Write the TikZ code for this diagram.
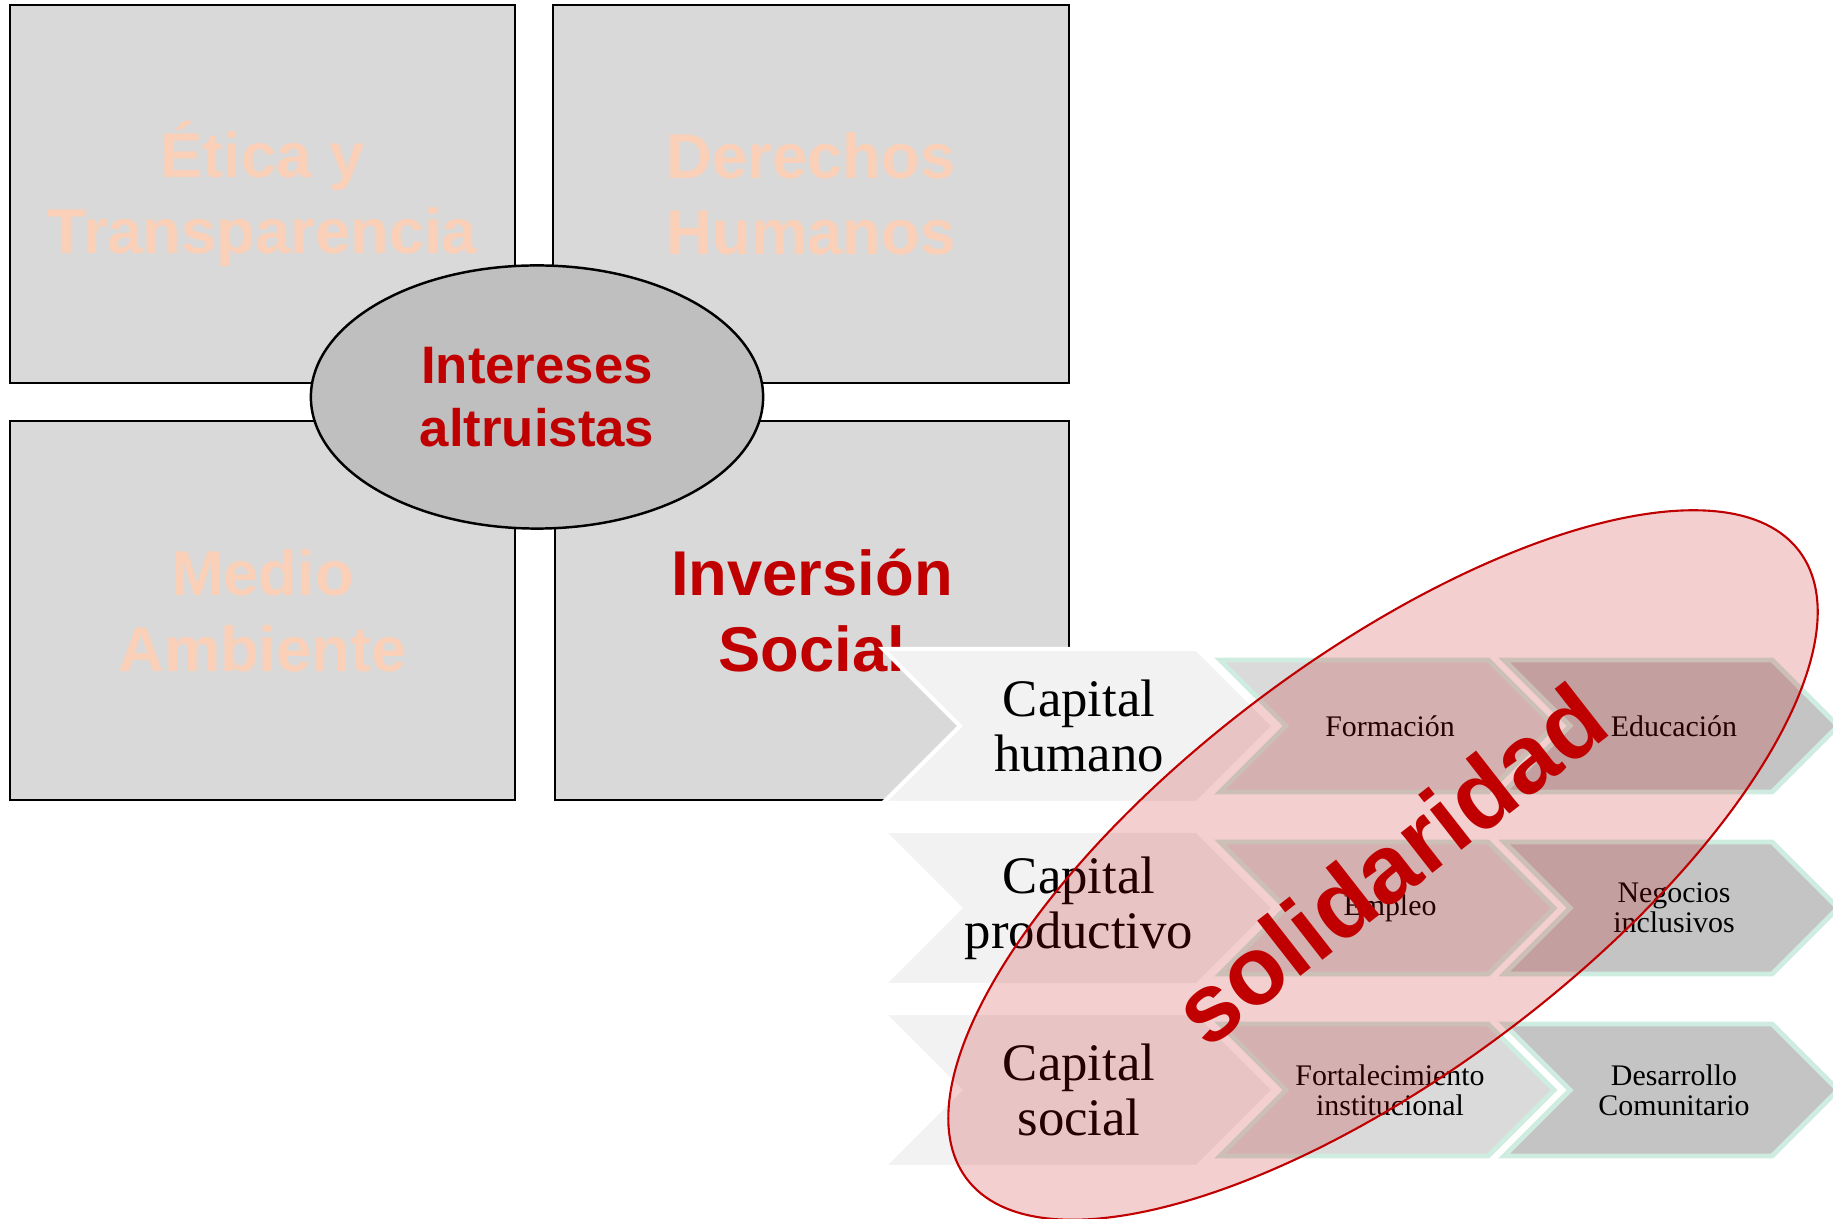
\documentclass[tikz,border=0pt]{standalone}
\usepackage{fontspec}
\setmainfont{Liberation Serif}
\newfontfamily\arialfont{Liberation Sans}
\usetikzlibrary{shapes.geometric}
\definecolor{boxgray}{HTML}{D9D9D9}
\definecolor{ovalgray}{HTML}{BFBFBF}
\definecolor{peach}{HTML}{FBD0B8}
\definecolor{darkred}{HTML}{C00000}
\definecolor{chevlight}{HTML}{F2F2F2}
\definecolor{chevmid}{HTML}{DADADA}
\definecolor{chevdark}{HTML}{C4C4C4}
\definecolor{mint}{HTML}{CFECE1}

\begin{document}
\begin{tikzpicture}[x=0.01cm, y=-0.01cm,
  area/.style={draw, line width=0.7pt, fill=boxgray},
  areatext/.style={font=\arialfont\bfseries\fontsize{18}{21.6}\selectfont, text=peach, align=center},
  captext/.style={font=\fontsize{15}{15.6}\selectfont, align=center},
  itemtext/.style={font=\fontsize{8.5}{8.6}\selectfont, align=center}]
\useasboundingbox (0,0) rectangle (1833,1219);

\path[area] (10,5) rectangle (515,383);
\path[area] (553,5) rectangle (1069,383);
\path[area] (10,421) rectangle (515,800);
\path[area] (555,421) rectangle (1069,800);

\node[areatext] (etica) at (262.5,194) {Ética y\\Transparencia};
\node[areatext] (derechos) at (811,194) {Derechos\\Humanos};
\node[areatext] (medio) at (262.5,610.5) {Medio\\Ambiente};
\node[areatext, text=darkred] (inversion) at (812,610.5) {Inversión\\Social};

\node[draw, ellipse, line width=0.7pt, fill=ovalgray, minimum width=4.52cm, minimum height=2.63cm, inner sep=0pt, font=\arialfont\bfseries\fontsize{15}{17.8}\selectfont, text=darkred, align=center] (intereses) at (537,397) {Intereses\\altruistas};

\foreach \y in {726,908,1090} {
  \path[fill=chevlight, draw=white, line width=1.2pt] (883,\y) ++(0,-77) -- ++(314,0) -- ++(77,77) -- ++(-77,77) -- ++(-314,0) -- ++(77,-77) -- cycle;
  \path[fill=chevmid, draw=mint, line width=1.4pt] (1220,\y) ++(0,-66) -- ++(268,0) -- ++(66,66) -- ++(-66,66) -- ++(-268,0) -- ++(66,-66) -- cycle;
  \path[fill=chevdark, draw=mint, line width=1.4pt] (1504,\y) ++(0,-66) -- ++(268,0) -- ++(66,66) -- ++(-66,66) -- ++(-268,0) -- ++(66,-66) -- cycle;
}

\node[captext] (caphumano) at (1079,726) {Capital\\humano};
\node[captext] (capproductivo) at (1079,908) {Capital\\productivo};
\node[captext] (capsocial) at (1079,1090) {Capital\\social};

\node[itemtext] (formacion) at (1390,726) {Formación};
\node[itemtext] (educacion) at (1674,726) {Educación};
\node[itemtext] (empleo) at (1390,908) {Empleo};
\node[itemtext] (negocios) at (1674,908) {Negocios\\inclusivos};
\node[itemtext] (fortalecimiento) at (1390,1090) {Fortalecimiento\\institucional};
\node[itemtext] (desarrollo) at (1674,1090) {Desarrollo\\Comunitario};

\node[draw=darkred, fill=darkred, fill opacity=0.19, line width=0.6pt, ellipse, rotate=37, minimum width=10.42cm, minimum height=4.14cm] (solid) at (1383,865) {};
\node[rotate=38, text=darkred, font=\arialfont\bfseries\fontsize{27.5}{27.5}\selectfont] (solidaridad) at (1389,864) {solidaridad};
\end{tikzpicture}
\end{document}
